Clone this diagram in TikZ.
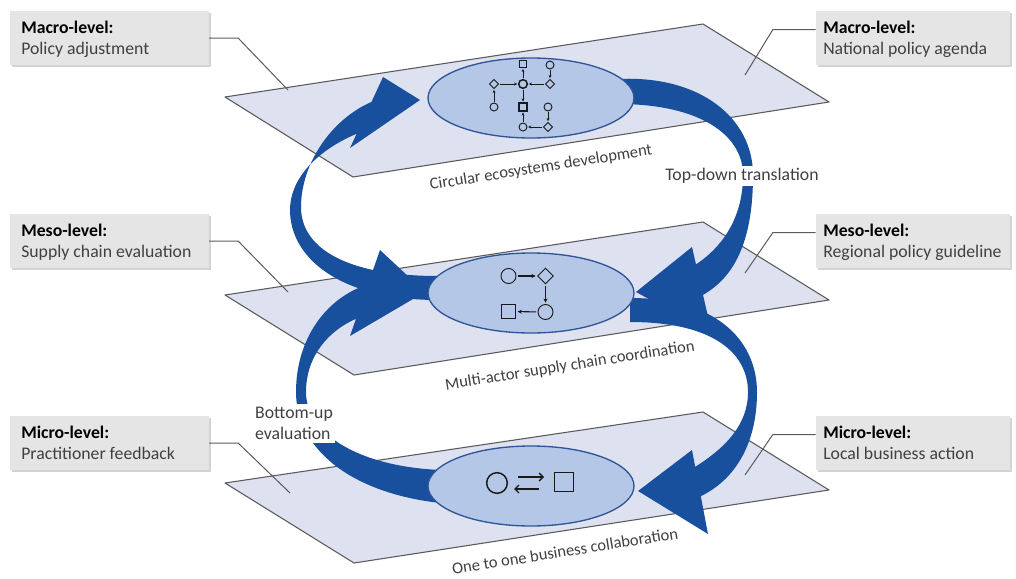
\documentclass[tikz,border=0pt]{standalone}
\usepackage{fontspec}
\setmainfont{Carlito}
\usetikzlibrary{shapes.geometric,arrows.meta,shadows,calc}
\definecolor{planefill}{RGB}{222,225,240}
\definecolor{planeline}{RGB}{90,90,90}
\definecolor{ellfill}{RGB}{180,199,231}
\definecolor{ellline}{RGB}{47,85,151}
\definecolor{flow}{RGB}{24,80,158}
\definecolor{boxfill}{RGB}{229,229,229}
\definecolor{txt}{RGB}{64,64,64}
\definecolor{iconc}{RGB}{25,25,25}
\begin{document}
\begin{tikzpicture}[x=0.75pt,y=-0.75pt,
  plane/.style={fill=planefill, draw=planeline, line width=0.8pt, line join=round},
  level/.style={ellipse, fill=ellfill, draw=ellline, line width=1pt,
    minimum width=154.5pt, minimum height=60pt, inner sep=0pt},
  flowarrow/.style={fill=flow},
  lbox/.style={rectangle, fill=boxfill, minimum height=40.5pt, minimum width=#1,
    inner sep=0pt,
    drop shadow={opacity=0.35, shadow xshift=1.5pt, shadow yshift=-1.5pt}},
  lhead/.style={anchor=base west, inner sep=0pt, font=\fontsize{13.3}{16}\selectfont\bfseries, text=black},
  ltext/.style={anchor=base west, inner sep=0pt, font=\fontsize{13.3}{16}\selectfont, text=txt},
  leader/.style={draw=planeline, line width=0.75pt},
  plab/.style={font=\fontsize{12.4}{14}\selectfont, text=txt},
  flab/.style={font=\fontsize{13.3}{16}\selectfont, text=txt, fill=white, inner sep=2pt},
  ic/.style={draw=iconc, line width=0.7pt, inner sep=0pt},
  icirc/.style={ic, circle, minimum size=#1},
  isq/.style={ic, rectangle, minimum size=#1},
  idia/.style={ic, diamond, minimum size=#1},
  iarr/.style={draw=iconc, line width=0.6pt, -{Stealth[length=2.4pt,width=2.2pt]},
    shorten >=0.5pt, shorten <=0.5pt},
  marr/.style={draw=iconc, line width=0.8pt, -{Stealth[length=3.2pt,width=3pt]},
    shorten >=1pt, shorten <=1pt},
  barr/.style={draw=iconc, line width=1pt, -{Straight Barb[length=3pt,width=6pt]}},
]
\useasboundingbox (0,0) rectangle (1016,578);

% the three planes
\filldraw[plane] (225,97) -- (703,24) -- (829,102) -- (353,177) -- cycle;
\filldraw[plane] (225,295) -- (703,222) -- (829,300) -- (354,375) -- cycle;
\filldraw[plane] (225,483) -- (703,412) -- (829,490) -- (354,563) -- cycle;

% plane captions
\node[plab, rotate=9] (cap1) at (541,168) {Circular ecosystems development};
\node[plab, rotate=9] (cap2) at (570,366) {Multi-actor supply chain coordination};
\node[plab, rotate=9] (cap3) at (565,551) {One to one business collaboration};

% bottom-up: meso to macro (left)
\fill[flowarrow] (438,300) .. controls (340,300) and (290,258) .. (290,210)
  .. controls (290,178) and (318,150) .. (356.6,133.8)
  -- (350,148) -- (420,100) -- (383,77) -- (371.5,101.9)
  .. controls (330,120) and (301,165) .. (301,207)
  .. controls (301,250) and (350,276) .. (438,276) -- cycle;
% bottom-up: micro to meso (left)
\fill[flowarrow] (440,503) .. controls (345,492) and (296,445) .. (296,392)
  .. controls (296,340) and (325,298) .. (368,284.4)
  -- (380,250) -- (425,292) -- (350,336) -- (356,318.8)
  .. controls (330,330) and (306,355) .. (306,392)
  .. controls (306,432) and (355,466) .. (440,470) -- cycle;
% top-down: meso to micro (right)
\fill[flowarrow] (630,298) .. controls (722,298) and (757,345) .. (757,392)
  .. controls (757,440) and (738,478) .. (700.8,496.2)
  -- (708,534) -- (638,491) -- (692,450) -- (695.2,466.8)
  .. controls (725,448) and (748,425) .. (748,392)
  .. controls (748,355) and (716,322) .. (630,322) -- cycle;
% top-down: macro to meso (right)
\fill[flowarrow] (618,79) .. controls (700,75) and (753,118) .. (753,175)
  .. controls (753,235) and (738,275) .. (703,294.9)
  -- (712,334) -- (636,292) -- (692,247) -- (696,264.4)
  .. controls (725,245) and (743,215) .. (743,175)
  .. controls (743,135) and (700,104) .. (618,104) -- cycle;

% level ellipses
\node[level] (macro) at (531,98) {};
\node[level] (meso) at (531,293) {};
\node[level] (micro) at (531,486) {};

% macro icon: network of actors
\node[isq=5.6pt] (s1) at (523,64) {};
\node[icirc=6pt] (c1) at (550,65) {};
\node[idia=7pt] (d1) at (494,84) {};
\node[icirc=6.5pt, line width=1.1pt] (c0) at (523,84) {};
\node[idia=7pt] (d2) at (550,84) {};
\node[icirc=6pt] (c2) at (494,107) {};
\node[isq=6pt, line width=1.1pt] (s0) at (523,107) {};
\node[icirc=6pt] (c3) at (548,107) {};
\node[icirc=6pt] (c4) at (523,127) {};
\node[idia=7pt] (d3) at (548,127) {};
\draw[iarr] (c0) -- (s1);
\draw[iarr] (d1) -- (c0);
\draw[iarr] (d2) -- (c0);
\draw[iarr] (c1) -- (d2);
\draw[iarr] (c2) -- (d1);
\draw[iarr] (c0) -- (s0);
\draw[iarr] (c4) -- (s0);
\draw[iarr] (d3) -- (c4);
\draw[iarr] (c3) -- (d3);

% meso icon: supply chain loop
\node[icirc=11.25pt] (mc1) at (508.5,276) {};
\node[idia=12pt] (md) at (545.5,276) {};
\node[icirc=11.25pt] (mc2) at (545.5,312) {};
\node[isq=11pt] (ms) at (508.5,311.5) {};
\draw[marr] (mc1) -- (md);
\draw[marr] (md) -- (mc2);
\draw[marr] (mc2) -- (ms);

% micro icon: two partners
\node[icirc=15.5pt, line width=1.1pt] (bc) at (497,483) {};
\node[isq=14.5pt, line width=1.1pt] (bs) at (564,482) {};
\coordinate (bx1) at (518,477);
\coordinate (bx2) at (544,477);
\coordinate (bx3) at (539,489);
\coordinate (bx4) at (514,489);
\draw[barr] (bx1) -- (bx2);
\draw[barr] (bx3) -- (bx4);

% flow captions
\node[flab] (td) at (742,176) {Top-down translation};
\node[flab, align=left] (bu) at (294,423.5) {Bottom-up\\evaluation};

% level boxes
\node[lbox=149pt] (ml) at (109.5,38) {};
\node[lbox=145.5pt] (mr) at (913,38) {};
\node[lbox=149pt] (sl) at (109.5,241) {};
\node[lbox=145.5pt] (sr) at (913,241) {};
\node[lbox=149pt] (il) at (109.5,443) {};
\node[lbox=145.5pt] (ir) at (913,443) {};
\node[lhead] (mlh) at (21,33) {Macro-level:};
\node[ltext] (mlt) at (21,54) {Policy adjustment};
\node[lhead] (mrh) at (823,33) {Macro-level:};
\node[ltext] (mrt) at (823,54) {National policy agenda};
\node[lhead] (slh) at (21,236) {Meso-level:};
\node[ltext] (slt) at (21,257) {Supply chain evaluation};
\node[lhead] (srh) at (823,236) {Meso-level:};
\node[ltext] (srt) at (823,257) {Regional policy guideline};
\node[lhead] (ilh) at (21,438) {Micro-level:};
\node[ltext] (ilt) at (21,459) {Practitioner feedback};
\node[lhead] (irh) at (823,438) {Micro-level:};
\node[ltext] (irt) at (823,459) {Local business action};

% leader lines into the planes
\coordinate (pl1) at (288,90);
\coordinate (pl2) at (288,292);
\coordinate (pl3) at (290,493);
\coordinate (pr1) at (745,75);
\coordinate (pr2) at (745,273);
\coordinate (pr3) at (745,475);
\draw[leader] (ml.east) -- ++(29,0) -- (pl1);
\draw[leader] (sl.east) -- ++(29,0) -- (pl2);
\draw[leader] (il.east) -- ++(29,0) -- (pl3);
\draw[leader] ($(mr.north west)+(0,19)$) -- ++(-43,0) -- (pr1);
\draw[leader] ($(sr.north west)+(0,19)$) -- ++(-43,0) -- (pr2);
\draw[leader] ($(ir.north west)+(0,19)$) -- ++(-43,0) -- (pr3);
\end{tikzpicture}
\end{document}
